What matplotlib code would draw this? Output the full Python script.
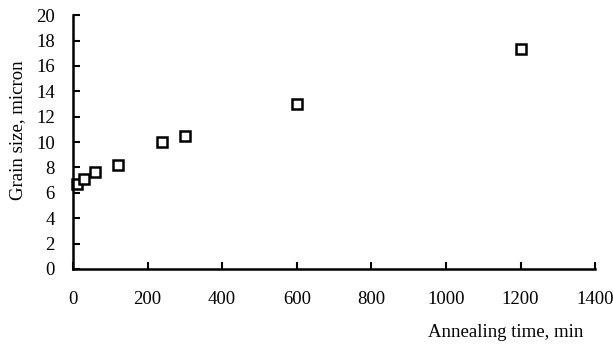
import matplotlib
matplotlib.use("Agg")
import matplotlib.pyplot as plt

time_min = [10, 30, 60, 120, 240, 300, 600, 1200]
grain_um = [6.7, 7.05, 7.6, 8.2, 10.0, 10.45, 13.0, 17.3]

plt.rcParams['font.family'] = ['Liberation Serif', 'DejaVu Serif']

fig = plt.figure(figsize=(6.13, 3.52), dpi=100)
ax = fig.add_axes([0.119, 0.236, 0.852, 0.721])

ax.plot(time_min, grain_um, linestyle='none', marker='s', markersize=7.5,
        markerfacecolor='white', markeredgecolor='black', markeredgewidth=1.8,
        clip_on=False)

ax.set_xlim(0, 1400)
ax.set_ylim(0, 20)
ax.set_xticks(range(0, 1401, 200))
ax.set_yticks(range(0, 21, 2))

for s in ['top', 'right']:
    ax.spines[s].set_visible(False)
for s in ['left', 'bottom']:
    ax.spines[s].set_linewidth(1.8)

ax.tick_params(direction='in', length=5, width=1.5, labelsize=13.5)
ax.tick_params(axis='x', pad=16)
ax.tick_params(axis='y', pad=13)

ax.set_ylabel('Grain size, micron', fontsize=13.5)
ax.yaxis.set_label_coords(-0.09, 0.545)
fig.text(0.951, 0.054, 'Annealing time, min', fontsize=13.5, ha='right', va='center')

fig.savefig('out.png', dpi=100)
